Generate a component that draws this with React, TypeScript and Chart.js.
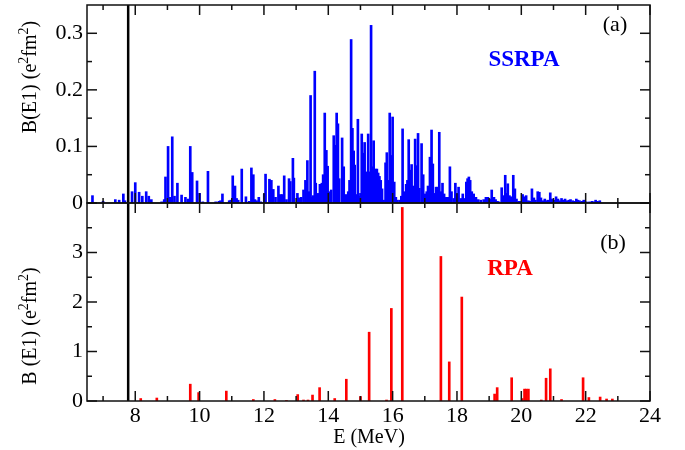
import React, { useEffect, useRef } from "react";
import { Chart, registerables } from "chart.js";

Chart.register(...registerables);

// ---------- data ----------
const ssrpaEnergy = [
  6.67, 7.0, 7.38, 7.5, 7.63, 7.68, 7.9, 8.0, 8.12, 8.22, 8.34, 8.42, 8.5, 8.82, 8.9, 8.94,
  9.02, 9.08, 9.15, 9.22, 9.31, 9.44, 9.56, 9.64, 9.71, 9.77, 9.92, 10.0, 10.1, 10.26, 10.5,
  10.6, 10.65, 10.71, 10.92, 10.97, 11.03, 11.1, 11.15, 11.2, 11.31, 11.44, 11.54, 11.61,
  11.67, 11.72, 11.77, 11.84, 11.9, 12.01, 12.05, 12.17, 12.23, 12.29, 12.36, 12.45, 12.51,
  12.57, 12.63, 12.7, 12.78, 12.82, 12.9, 12.93, 13.04, 13.1, 13.16, 13.23, 13.29, 13.35,
  13.39, 13.45, 13.5, 13.53, 13.58, 13.61, 13.67, 13.74, 13.8, 13.84, 13.89, 13.94, 13.98,
  14.03, 14.09, 14.17, 14.23, 14.26, 14.3, 14.34, 14.43, 14.48, 14.54, 14.57, 14.62, 14.66,
  14.71, 14.75, 14.79, 14.82, 14.86, 14.92, 14.95, 15.0, 15.04, 15.08, 15.13, 15.18, 15.24,
  15.28, 15.33, 15.37, 15.41, 15.46, 15.51, 15.55, 15.59, 15.63, 15.67, 15.72, 15.78, 15.82,
  15.86, 15.91, 15.96, 16.0, 16.05, 16.1, 16.15, 16.22, 16.27, 16.31, 16.36, 16.42, 16.46,
  16.5, 16.54, 16.59, 16.64, 16.7, 16.73, 16.79, 16.83, 16.9, 16.95, 17.0, 17.06, 17.1,
  17.16, 17.21, 17.25, 17.3, 17.35, 17.4, 17.45, 17.5, 17.55, 17.6, 17.67, 17.73, 17.78,
  17.83, 17.9, 17.95, 18.0, 18.05, 18.12, 18.18, 18.23, 18.29, 18.33, 18.37, 18.41, 18.46,
  18.52, 18.59, 18.66, 18.74, 18.83, 18.9, 18.96, 19.02, 19.08, 19.15, 19.2, 19.26, 19.3,
  19.39, 19.44, 19.5, 19.54, 19.58, 19.63, 19.68, 19.75, 19.8, 19.85, 19.92, 19.99, 20.04,
  20.08, 20.15, 20.22, 20.27, 20.33, 20.39, 20.44, 20.51, 20.56, 20.61, 20.67, 20.73, 20.78,
  20.83, 20.9, 20.95, 21.02, 21.08, 21.14, 21.19, 21.25, 21.3, 21.36, 21.42, 21.48, 21.53,
  21.6, 21.66, 21.71, 21.76, 21.81, 21.89, 21.94, 22.02, 22.12, 22.2, 22.26, 22.31, 22.37,
  22.44,
];
const ssrpaStrength = [
  0.013, 0.003, 0.006, 0.005, 0.016, 0.004, 0.02, 0.036, 0.019, 0.012, 0.02, 0.012, 0.006, 0.002, 0.006, 0.046,
  0.1, 0.01, 0.117, 0.012, 0.035, 0.014, 0.01, 0.007, 0.1, 0.054, 0.039, 0.017, 0.002, 0.056, 0.002,
  0.003, 0.004, 0.016, 0.004, 0.005, 0.048, 0.03, 0.008, 0.005, 0.06, 0.011, 0.003, 0.062,
  0.05, 0.006, 0.004, 0.01, 0.002, 0.016, 0.051, 0.042, 0.04, 0.024, 0.01, 0.03, 0.015,
  0.015, 0.048, 0.006, 0.043, 0.038, 0.079, 0.044, 0.017, 0.009, 0.01, 0.023, 0.04, 0.075,
  0.02, 0.19, 0.01, 0.013, 0.233, 0.035, 0.017, 0.033, 0.035, 0.05, 0.159, 0.093, 0.065,
  0.02, 0.023, 0.119, 0.102, 0.159, 0.14, 0.043, 0.115, 0.064, 0.015, 0.01, 0.02, 0.04,
  0.289, 0.132, 0.092, 0.067, 0.015, 0.148, 0.012, 0.017, 0.122, 0.088, 0.107, 0.055, 0.122,
  0.055, 0.314, 0.064, 0.11, 0.06, 0.06, 0.053, 0.047, 0.04, 0.025, 0.005, 0.071, 0.089,
  0.04, 0.159, 0.084, 0.152, 0.037, 0.01, 0.005, 0.005, 0.012, 0.131, 0.02, 0.033, 0.04,
  0.112, 0.058, 0.068, 0.03, 0.113, 0.066, 0.123, 0.026, 0.105, 0.05, 0.016, 0.02, 0.03,
  0.081, 0.129, 0.069, 0.017, 0.028, 0.028, 0.125, 0.02, 0.035, 0.016, 0.01, 0.01, 0.064,
  0.02, 0.008, 0.035, 0.016, 0.028, 0.008, 0.016, 0.008, 0.037, 0.043, 0.046, 0.04, 0.02,
  0.016, 0.01, 0.006, 0.005, 0.006, 0.01, 0.01, 0.007, 0.023, 0.01, 0.006, 0.003, 0.002,
  0.027, 0.013, 0.049, 0.017, 0.034, 0.013, 0.011, 0.049, 0.025, 0.007, 0.003, 0.003, 0.015,
  0.011, 0.013, 0.004, 0.003, 0.025, 0.009, 0.005, 0.02, 0.019, 0.009, 0.004, 0.007, 0.004,
  0.005, 0.018, 0.007, 0.005, 0.011, 0.007, 0.004, 0.008, 0.005, 0.007, 0.004, 0.005, 0.006,
  0.004, 0.003, 0.007, 0.005, 0.004, 0.003, 0.005, 0.002, 0.002, 0.003, 0.002, 0.005, 0.003,
  0.004,
];

const rpaEnergy = [
  8.17, 8.67, 9.71, 9.97, 10.83, 11.67, 12.34, 12.7, 13.05, 13.23, 13.37, 13.51, 13.73, 14.2,
  14.56, 15.0, 15.27, 15.81, 15.96, 16.3, 17.5, 17.76, 18.15, 19.17, 19.25, 19.7, 20.03, 20.1,
  20.15, 20.22, 20.62, 20.77, 20.9, 21.25, 21.92, 22.1, 22.45, 22.65, 22.83,
];
const rpaStrength = [
  0.05, 0.06, 0.34, 0.17, 0.2, 0.03, 0.03, 0.01, 0.13, 0.02, 0.02, 0.12, 0.27, 0.05,
  0.44, 0.09, 1.39, 0.02, 1.87, 3.91, 2.92, 0.79, 2.1, 0.14, 0.27, 0.47, 0.05, 0.24,
  0.24, 0.24, 0.02, 0.46, 0.65, 0.03, 0.47, 0.07, 0.08, 0.04, 0.04,
];

const thresholdEnergy = 7.78;

const xMajorTicks = [8, 10, 12, 14, 16, 18, 20, 22, 24];
const xMinorTicks = [7, 9, 11, 13, 15, 17, 19, 21, 23];
const topLabelTicks = [0, 0.1, 0.2, 0.3];
const topMajorTicks = [0, 0.1, 0.2, 0.3];
const topMinorTicks = [0.05, 0.15, 0.25];
const bottomLabelTicks = [0, 1, 2, 3];
const bottomMajorTicks = [0, 1, 2, 3, 4];
const bottomMinorTicks = [0.5, 1.5, 2.5, 3.5];

const SERIF = "'Liberation Serif', 'DejaVu Serif', serif";

type Part = { t: string; sup?: boolean };

function drawRich(ctx: CanvasRenderingContext2D, parts: Part[], cx: number, baseY: number, size: number) {
  const supSize = Math.round(size * 0.68);
  let total = 0;
  const widths = parts.map((p) => {
    ctx.font = `${p.sup ? supSize : size}px ${SERIF}`;
    const w = ctx.measureText(p.t).width;
    total += w;
    return w;
  });
  let x = cx - total / 2;
  ctx.textAlign = "left";
  ctx.textBaseline = "alphabetic";
  parts.forEach((p, i) => {
    ctx.font = `${p.sup ? supSize : size}px ${SERIF}`;
    ctx.fillText(p.t, x, p.sup ? baseY - size * 0.42 : baseY);
    x += widths[i];
  });
}

const decorPlugin = {
  id: "decor",
  afterDatasetsDraw(chart: any) {
    const ctx: CanvasRenderingContext2D = chart.ctx;
    const { left, right, top, bottom } = chart.chartArea;
    const xs = chart.scales.x;
    const yTop = chart.scales.yTop;
    const yBot = chart.scales.yBottom;
    ctx.save();

    // threshold line
    ctx.strokeStyle = "#000";
    ctx.lineWidth = 2.5;
    const tx = xs.getPixelForValue(thresholdEnergy);
    ctx.beginPath();
    ctx.moveTo(tx, top);
    ctx.lineTo(tx, bottom);
    ctx.stroke();

    const panels = [
      { s: yTop, major: topMajorTicks, minor: topMinorTicks },
      { s: yBot, major: bottomMajorTicks, minor: bottomMinorTicks },
    ];
    ctx.lineWidth = 1.5;
    ctx.strokeStyle = "#111";
    for (const p of panels) {
      const pt = p.s.top;
      const pb = p.s.bottom;
      const seg = (x1: number, y1: number, x2: number, y2: number) => {
        ctx.beginPath();
        ctx.moveTo(x1, y1);
        ctx.lineTo(x2, y2);
        ctx.stroke();
      };
      const xt = (v: number, len: number) => {
        const px = xs.getPixelForValue(v);
        seg(px, pb, px, pb - len);
        seg(px, pt, px, pt + len);
      };
      xMajorTicks.forEach((v) => xt(v, 10));
      xMinorTicks.forEach((v) => xt(v, 5));
      const yt = (v: number, len: number) => {
        const py = p.s.getPixelForValue(v);
        seg(left, py, left + len, py);
        seg(right, py, right - len, py);
      };
      p.major.forEach((v) => yt(v, 10));
      p.minor.forEach((v) => yt(v, 5));
      ctx.strokeRect(left, pt, right - left, pb - pt);
    }

    // panel annotations
    ctx.fillStyle = "#000";
    ctx.textAlign = "center";
    ctx.textBaseline = "alphabetic";
    ctx.font = `22px ${SERIF}`;
    ctx.fillText("(a)", 615, 31);
    ctx.fillText("(b)", 613, 249);
    ctx.font = `bold 23px ${SERIF}`;
    ctx.fillStyle = "#0000ff";
    ctx.fillText("SSRPA", 524, 66);
    ctx.fillStyle = "#ff0000";
    ctx.fillText("RPA", 510, 275);

    // axis titles
    ctx.fillStyle = "#000";
    drawRich(ctx, [{ t: "E (MeV)" }], 369, 443, 20);

    ctx.save();
    ctx.translate(36, 77);
    ctx.rotate(-Math.PI / 2);
    drawRich(ctx, [{ t: "B(E1) (e" }, { t: "2", sup: true }, { t: "fm" }, { t: "2", sup: true }, { t: ")" }], 0, 0, 20);
    ctx.restore();

    ctx.save();
    ctx.translate(36, 326);
    ctx.rotate(-Math.PI / 2);
    drawRich(ctx, [{ t: "B (E1) (e" }, { t: "2", sup: true }, { t: "fm" }, { t: "2", sup: true }, { t: ")" }], 0, 0, 20);
    ctx.restore();

    ctx.restore();
  },
};

const tickFont = { family: SERIF, size: 22 };

const zeroPad = (s: any) => {
  s.paddingTop = 0;
  s.paddingBottom = 0;
  s.paddingLeft = 0;
  s.paddingRight = 0;
};

export default function App() {
  const ref = useRef<HTMLCanvasElement | null>(null);

  useEffect(() => {
    document.body.style.margin = "0";
    const canvas = ref.current;
    if (!canvas) return;
    const chart = new Chart(canvas, {
      type: "bar",
      data: {
        datasets: [
          {
            label: "SSRPA",
            data: ssrpaEnergy.map((e, i) => ({ x: e, y: ssrpaStrength[i] })),
            yAxisID: "yTop",
            backgroundColor: "#0000ff",
            borderWidth: 0,
            barThickness: 2,
            grouped: false,
          } as any,
          {
            label: "RPA",
            data: rpaEnergy.map((e, i) => ({ x: e, y: rpaStrength[i] })),
            yAxisID: "yBottom",
            backgroundColor: "#ff0000",
            borderWidth: 0,
            barThickness: 2,
            grouped: false,
          } as any,
        ],
      },
      options: {
        responsive: false,
        animation: false,
        devicePixelRatio: 1,
        layout: { padding: { top: 5, right: 35, left: 0, bottom: 0 } },
        plugins: { legend: { display: false }, tooltip: { enabled: false } },
        scales: {
          x: {
            type: "linear",
            min: 6.5,
            max: 24,
            offset: false,
            grid: { display: false, drawTicks: false },
            border: { display: false },
            ticks: { font: tickFont, color: "#000", padding: 2, maxRotation: 0, autoSkip: false },
            afterBuildTicks: (s: any) => {
              s.ticks = xMajorTicks.map((v) => ({ value: v }));
            },
            afterFit: (s: any) => {
              s.height = 49;
              zeroPad(s);
            },
          },
          yTop: {
            type: "linear",
            position: "left",
            stack: "panels",
            stackWeight: 1,
            weight: 2,
            min: 0,
            max: 0.35,
            offset: false,
            grid: { display: false, drawTicks: false },
            border: { display: false },
            ticks: {
              font: tickFont,
              color: "#000",
              padding: 4,
              autoSkip: false,
              callback: (v: any) => (Number(v) === 0 ? "0" : Number(v).toFixed(1)),
            },
            afterBuildTicks: (s: any) => {
              s.ticks = topLabelTicks.map((v) => ({ value: v }));
            },
            afterFit: (s: any) => {
              s.width = 87;
              zeroPad(s);
            },
          },
          yBottom: {
            type: "linear",
            position: "left",
            stack: "panels",
            stackWeight: 1,
            weight: 1,
            min: 0,
            max: 4,
            offset: false,
            grid: { display: false, drawTicks: false },
            border: { display: false },
            ticks: {
              font: tickFont,
              color: "#000",
              padding: 4,
              autoSkip: false,
              callback: (v: any) => String(v),
            },
            afterBuildTicks: (s: any) => {
              s.ticks = bottomLabelTicks.map((v) => ({ value: v }));
            },
            afterFit: (s: any) => {
              s.width = 87;
              zeroPad(s);
            },
          },
        } as any,
      },
      plugins: [decorPlugin],
    });
    return () => chart.destroy();
  }, []);

  return (
    <div style={{ width: 685, height: 450, background: "#fff" }}>
      <canvas ref={ref} width={685} height={450} style={{ display: "block", width: 685, height: 450 }} />
    </div>
  );
}
